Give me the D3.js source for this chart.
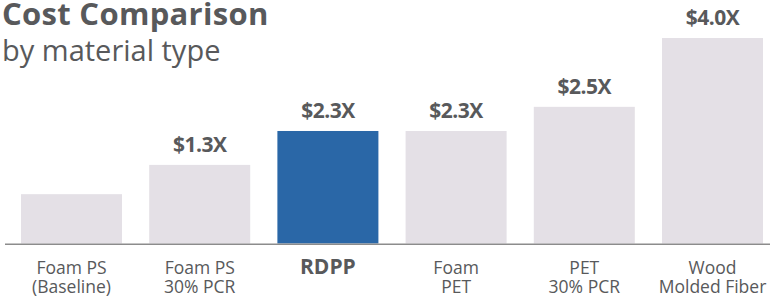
<!DOCTYPE html>
<html>
<head>
<meta charset="utf-8">
<script src="https://cdn.jsdelivr.net/npm/d3@7"></script>
<style>
  html, body { margin: 0; padding: 0; background: #fff; }
  #chart { width: 770px; height: 296px; }
  text { font-family: "Open Sans", "Lato", sans-serif; fill: #58595b; }
</style>
</head>
<body>
<div id="chart"></div>
<script>
// categories (two-line labels split on "|")
const categories = ["Foam PS|(Baseline)", "Foam PS|30% PCR", "RDPP", "Foam|PET", "PET|30% PCR", "Wood|Molded Fiber"];
// bar heights as drawn in the picture (not to scale with the labels)
const barValues = [0.96, 1.53, 2.19, 2.19, 2.66, 4.0];
// value labels printed above bars
const valueLabels = ["", "$1.3X", "$2.3X", "$2.3X", "$2.5X", "$4.0X"];
const highlight = "RDPP";

(function() {
  const width = 770, height = 296;
  const baseY = 243.5;

  const svg = d3.select("#chart").append("svg")
    .attr("width", width)
    .attr("height", height);

  const x = d3.scaleBand()
    .domain(categories)
    .range([21, 763])
    .paddingInner(0.212)
    .paddingOuter(0);

  const y = d3.scaleLinear()
    .domain([0, 4.0])
    .range([baseY, 38]);

  // title
  svg.append("text")
    .attr("x", 2)
    .attr("y", 25)
    .style("font-size", "31px")
    .style("font-weight", "700")
    .style("letter-spacing", "0.3px")
    .text("Cost Comparison");

  svg.append("text")
    .attr("x", 2)
    .attr("y", 61)
    .style("font-size", "29px")
    .style("font-weight", "400")
    .text("by material type");

  // bars
  svg.selectAll("rect.bar")
    .data(categories)
    .join("rect")
    .attr("class", "bar")
    .attr("x", d => x(d))
    .attr("y", (d, i) => y(barValues[i]))
    .attr("width", x.bandwidth())
    .attr("height", (d, i) => baseY - y(barValues[i]))
    .attr("fill", d => d === highlight ? "#2a67a7" : "#e4e0e6");

  // value labels
  svg.selectAll("text.val")
    .data(categories)
    .join("text")
    .attr("class", "val")
    .attr("x", d => x(d) + x.bandwidth() / 2)
    .attr("y", (d, i) => y(barValues[i]) - 13)
    .attr("text-anchor", "middle")
    .style("font-size", "21px")
    .style("font-weight", "700")
    .style("letter-spacing", "-0.5px")
    .text((d, i) => valueLabels[i]);

  // baseline
  svg.append("line")
    .attr("x1", 5)
    .attr("x2", 770)
    .attr("y1", 244.3)
    .attr("y2", 244.3)
    .attr("stroke", "#8c8c8c")
    .attr("stroke-width", 1.5);

  // category axis
  const axis = svg.append("g")
    .attr("transform", `translate(0,${baseY})`)
    .call(d3.axisBottom(x).tickSize(0).tickFormat(""));
  axis.select(".domain").remove();

  axis.selectAll(".tick").each(function(d) {
    const lines = d.split("|");
    const t = d3.select(this).select("text")
      .attr("y", 0)
      .attr("dy", null)
      .attr("text-anchor", "middle")
      .style("font-size", d === highlight ? "21px" : "17.5px")
      .style("font-weight", d === highlight ? "700" : "400")
      .style("fill", "#58595b");
    lines.forEach((ln, i) => {
      t.append("tspan")
        .attr("x", 0)
        .attr("y", 30 + i * 19)
        .text(ln);
    });
  });
})();
</script>
</body>
</html>
